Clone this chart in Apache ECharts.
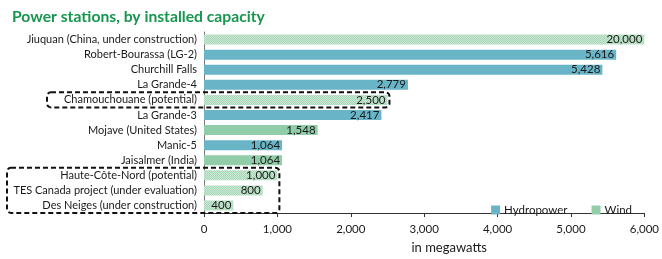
<!DOCTYPE html>
<html>
<head>
<meta charset="utf-8">
<script src="https://cdn.jsdelivr.net/npm/echarts@6/dist/echarts.min.js"></script>
<style>
  html, body { margin: 0; padding: 0; background: #fff; }
  #chart { width: 662px; height: 259px; }
</style>
</head>
<body>
<div id="chart"></div>
<script>
// categories, top to bottom
const stations = [
  'Jiuquan (China, under construction)',
  'Robert-Bourassa (LG-2)',
  'Churchill Falls',
  'La Grande-4',
  'Chamouchouane (potential)',
  'La Grande-3',
  'Mojave (United States)',
  'Manic-5',
  'Jaisalmer (India)',
  'Haute-Côte-Nord (potential)',
  'TES Canada project (under evaluation)',
  'Des Neiges (under construction)'
];
const hydro = ['-', 5616, 5428, 2779, '-', 2417, '-', 1064, '-', '-', '-', '-'];
const wind = [20000, '-', '-', '-', 2500, '-', 1548, '-', 1064, 1000, 800, 400];
// projects not yet in service (drawn with a dotted fill)
const notBuilt = [true, false, false, false, true, false, false, false, false, true, true, true];
const xTicks = [0, 1000, 2000, 3000, 4000, 5000, 6000];

const FONT = 'Lato, "Open Sans", sans-serif';
const HYDRO = '#69b4c7';
const WIND = '#92cdaa';

// small dotted texture for the planned projects
const makePattern = () => {
  const c = document.createElement('canvas');
  c.width = 2; c.height = 2;
  const ctx = c.getContext('2d');
  ctx.fillStyle = '#cbe8d5';
  ctx.fillRect(0, 0, 2, 2);
  ctx.fillStyle = '#a8d6b8';
  ctx.fillRect(0, 0, 1, 1);
  ctx.fillRect(1, 1, 1, 1);
  return { image: c, repeat: 'repeat' };
};
const dotted = makePattern();

const fmt = (v) => Number(v).toLocaleString('en-US');

const chart = echarts.init(document.getElementById('chart'));

const labelStyle = {
  show: true,
  position: 'insideRight',
  distance: 2,
  color: '#1a1a1a',
  fontFamily: FONT,
  fontSize: 11.5,
  formatter: (p) => fmt(p.value)
};

const option = {
  animation: false,
  title: {
    text: 'Power stations, by installed capacity',
    left: 7,
    top: 4,
    textStyle: { color: '#17964f', fontFamily: FONT, fontWeight: 'bold', fontSize: 15.7 }
  },
  legend: {
    data: ['Hydropower', 'Wind'],
    right: 25,
    top: 199,
    itemWidth: 9,
    itemHeight: 9,
    itemGap: 24,
    icon: 'rect',
    textStyle: { color: '#1a1a1a', fontFamily: FONT, fontSize: 11.5, padding: [0, 0, 0, -1] }
  },
  grid: { left: 204, right: 14, top: 32, bottom: 42, containLabel: false },
  xAxis: {
    type: 'value',
    min: xTicks[0],
    max: xTicks[xTicks.length - 1],
    interval: 1000,
    name: 'in megawatts',
    nameLocation: 'middle',
    nameGap: 28,
    nameTextStyle: { color: '#1a1a1a', fontFamily: FONT, fontSize: 13, padding: [0, 0, 0, 50] },
    axisLine: { show: true, lineStyle: { color: '#333', width: 1 } },
    axisTick: { show: true, length: 4, lineStyle: { color: '#333' } },
    axisLabel: { color: '#1a1a1a', fontFamily: FONT, fontSize: 11.5, margin: 10, formatter: (v) => fmt(v) },
    splitLine: { show: false }
  },
  yAxis: {
    type: 'category',
    data: stations,
    inverse: true,
    axisLine: { show: true, lineStyle: { color: '#777', width: 1 } },
    axisTick: { show: false },
    axisLabel: { color: '#1a1a1a', fontFamily: FONT, fontSize: 11, margin: 7 }
  },
  series: [
    {
      name: 'Hydropower',
      type: 'bar',
      stack: 'all',
      barWidth: 10,
      clip: true,
      data: hydro,
      itemStyle: { color: HYDRO },
      label: labelStyle
    },
    {
      name: 'Wind',
      type: 'bar',
      stack: 'all',
      barWidth: 10,
      clip: true,
      data: wind.map((v, i) => notBuilt[i] ? { value: v, itemStyle: { color: dotted } } : v),
      itemStyle: { color: WIND },
      label: labelStyle
    }
  ]
};

chart.setOption(option);

// dashed call-out boxes around the projects discussed in the text
const rowH = chart.convertToPixel({ yAxisIndex: 0 }, stations[1]) - chart.convertToPixel({ yAxisIndex: 0 }, stations[0]);
const box = (firstIdx, lastIdx, leftPx, value) => {
  const yTop = chart.convertToPixel({ yAxisIndex: 0 }, stations[firstIdx]) - rowH / 2;
  const yBot = chart.convertToPixel({ yAxisIndex: 0 }, stations[lastIdx]) + rowH / 2;
  const xRight = chart.convertToPixel({ xAxisIndex: 0 }, value) + 2;
  return {
    type: 'rect',
    shape: { x: leftPx, y: yTop, width: xRight - leftPx, height: yBot - yTop, r: 4 },
    style: { fill: 'none', stroke: '#111', lineWidth: 2, lineDash: [5, 3] },
    z: 100
  };
};

chart.setOption({
  graphic: [
    box(4, 4, 47, wind[4]),
    box(9, 11, 7, 1000)
  ]
});
</script>
</body>
</html>
